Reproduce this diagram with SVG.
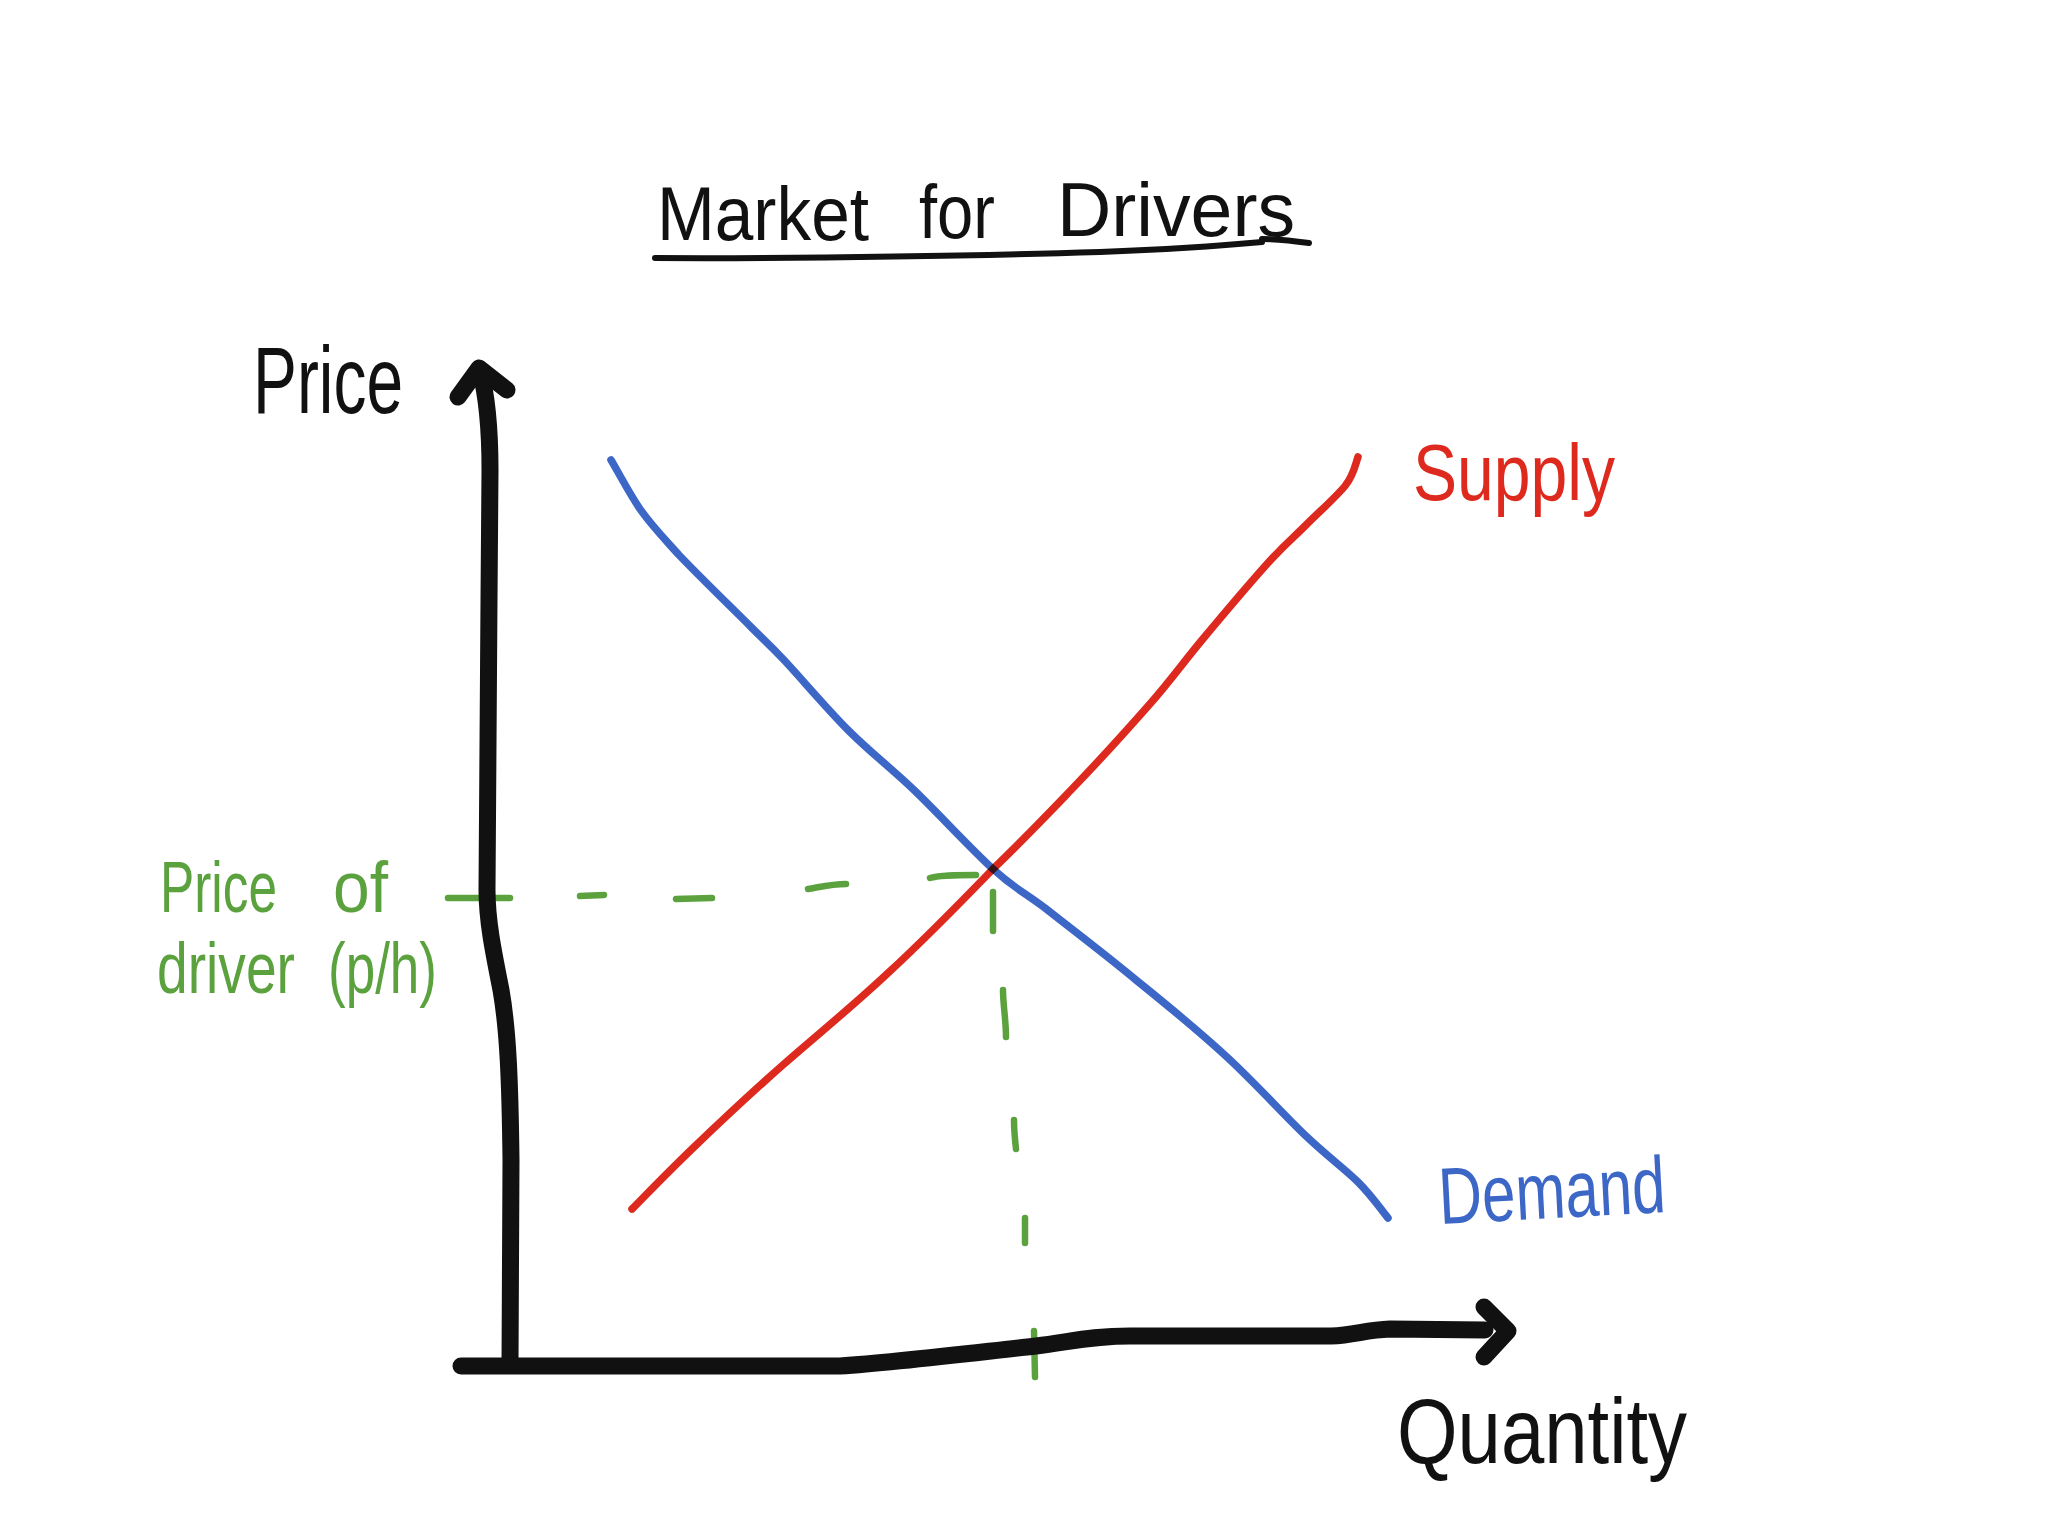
<svg xmlns="http://www.w3.org/2000/svg" width="2048" height="1536" viewBox="0 0 2048 1536">
<style>
  .ink { fill: none; stroke-linecap: round; stroke-linejoin: round; }
  .axis { stroke: #111111; stroke-width: 17; }
  .supply { stroke: #de2a1e; stroke-width: 7.5; }
  .demand { stroke: #3d67c7; stroke-width: 7.5; mix-blend-mode: multiply; }
  .dash { stroke: #5ba23f; stroke-width: 6.5; }
  .under { stroke: #111111; stroke-width: 6; }
  text { font-family: "Liberation Sans", "Noto Sans", sans-serif; }
  .black { fill: #111111; }
  .red { fill: #de2a1e; }
  .blue { fill: #3d67c7; }
  .green { fill: #5ba23f; }
</style>
<rect width="2048" height="1536" fill="#ffffff"/>

<g id="title">
  <text class="black" font-size="76">
    <tspan x="657" y="240" textLength="212" lengthAdjust="spacingAndGlyphs">Market</tspan>
    <tspan x="919" y="238" textLength="76" lengthAdjust="spacingAndGlyphs">for</tspan>
    <tspan x="1057" y="236" textLength="238" lengthAdjust="spacingAndGlyphs">Drivers</tspan>
  </text>
  <path class="ink under" d="M655,258 C800,259 1000,255 1100,252 C1180,249 1230,245 1262,242"/>
  <path class="ink under" d="M1262,239 C1280,239 1295,241 1309,243"/>
</g>

<g id="label-price">
  <text class="black" font-size="94" x="253" y="413" textLength="150" lengthAdjust="spacingAndGlyphs">Price</text>
</g>

<g id="label-quantity">
  <text class="black" font-size="92" x="1397" y="1463" textLength="290" lengthAdjust="spacingAndGlyphs">Quantity</text>
</g>

<g id="label-supply">
  <text class="red" font-size="80" x="1413" y="500" textLength="202" lengthAdjust="spacingAndGlyphs">Supply</text>
</g>

<g id="label-demand">
  <text class="blue" font-size="80" x="1440" y="1224" textLength="227" lengthAdjust="spacingAndGlyphs" transform="rotate(-3 1440 1224)">Demand</text>
</g>

<g id="label-price-of-driver">
  <text class="green" font-size="72">
    <tspan x="160" y="912" textLength="117" lengthAdjust="spacingAndGlyphs">Price</tspan>
    <tspan x="333" y="912" textLength="55" lengthAdjust="spacingAndGlyphs">of</tspan>
    <tspan x="157" y="993" textLength="138" lengthAdjust="spacingAndGlyphs">driver</tspan>
    <tspan x="328" y="993" textLength="109" lengthAdjust="spacingAndGlyphs">(p/h)</tspan>
  </text>
</g>

<g id="connectors">
  <g id="dashes">
    <path class="ink dash" d="M448,898 L510,898"/>
    <path class="ink dash" d="M580,896 L604,895"/>
    <path class="ink dash" d="M676,899 L712,898"/>
    <path class="ink dash" d="M808,889 C820,887 832,884 846,884"/>
    <path class="ink dash" d="M930,878 C940,875 955,875 976,875"/>
    <path class="ink dash" d="M993,892 L993,931"/>
    <path class="ink dash" d="M1003,990 C1003,1005 1006,1020 1006,1037"/>
    <path class="ink dash" d="M1014,1120 C1014,1130 1015,1140 1016,1149"/>
    <path class="ink dash" d="M1025,1218 L1025,1243"/>
    <path class="ink dash" d="M1034,1331 L1035,1377"/>
  </g>
  <g id="axes">
    <path class="ink axis" d="M510,1365 L511,1160 C510,1080 508,1030 501,990 C493,950 487,920 487,890 L489,600 L490,470 C490,420 486,392 480,370"/>
    <path class="ink axis" d="M458,397 L479,368 L507,390"/>
    <path class="ink axis" d="M461,1366 L840,1366 C900,1362 980,1352 1036,1346 C1070,1342 1090,1336 1130,1336 L1331,1336 C1355,1335 1365,1330 1390,1329 L1485,1330"/>
    <path class="ink axis" d="M1484,1307 L1508,1331 L1484,1357"/>
  </g>
  <g id="curves">
    <path id="supply" class="ink supply" d="M632,1209 C642,1199 667,1173 692,1149 C717,1125 751,1093 784,1064 C817,1035 853,1006 888,973 C923,941 963,900 993,869 C1024,839 1045,817 1071,790 C1097,763 1127,730 1149,705 C1171,680 1182,664 1202,640 C1222,616 1250,583 1267,564 C1284,545 1293,538 1306,525 C1319,512 1336,497 1345,486 C1354,475 1356,462 1358,457"/>
    <path id="demand" class="ink demand" d="M611,460 C616,468 629,493 640,509 C651,525 661,535 679,555 C698,575 734,610 751,627 C768,644 768,643 784,660 C800,677 827,709 849,731 C871,753 890,767 914,790 C938,813 971,849 993,869 C1015,889 1021,890 1045,908 C1069,927 1106,955 1136,980 C1167,1005 1200,1032 1228,1058 C1256,1084 1284,1115 1306,1136 C1328,1157 1344,1168 1358,1182 C1372,1196 1383,1212 1388,1218"/>
  </g>
</g>
</svg>
